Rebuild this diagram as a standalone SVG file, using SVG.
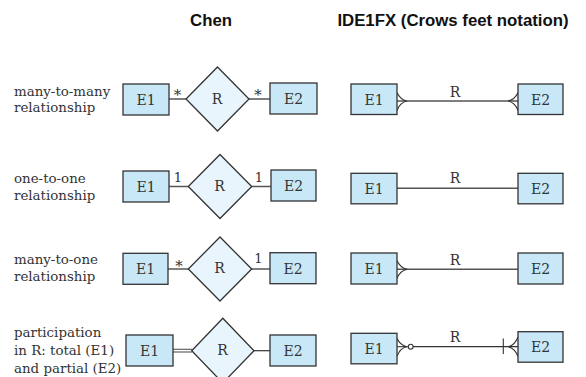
<svg xmlns="http://www.w3.org/2000/svg" width="586" height="377" viewBox="0 0 586 377">
<defs>
<style>
.bg{fill:#ffffff}
.head{font-family:"Liberation Sans",Arial,sans-serif;font-weight:bold;font-size:16.8px;fill:#111;text-anchor:middle}
.lbl{font-family:"DejaVu Serif","Liberation Serif",serif;font-size:13.4px;fill:#333}
.ent rect{fill:#c8e8f8;stroke:#333;stroke-width:1.3}
.rel polygon{fill:#e8f5fc;stroke:#333;stroke-width:1.3}
.t{font-family:"DejaVu Serif","Liberation Serif",serif;font-size:14px;fill:#333;text-anchor:middle}
.card{font-family:"DejaVu Serif","Liberation Serif",serif;font-size:13px;fill:#333;text-anchor:middle}
.star{font-family:"DejaVu Serif","Liberation Serif",serif;font-size:15px;fill:#333;text-anchor:middle}
.ln{stroke:#555;stroke-width:1.5;fill:none}
.ft{stroke:#333;stroke-width:1.1;fill:none}
</style>
</defs>
<rect class="bg" x="0" y="0" width="586" height="377"/>

<text class="head" x="211" y="26">Chen</text>
<text class="head" x="453" y="26">IDE1FX (Crows feet notation)</text>

<g id="labels">
<text class="lbl" x="14" y="95.5">many-to-many</text>
<text class="lbl" x="14" y="112">relationship</text>
<text class="lbl" x="14" y="183">one-to-one</text>
<text class="lbl" x="14" y="199.5">relationship</text>
<text class="lbl" x="14" y="264">many-to-one</text>
<text class="lbl" x="14" y="281">relationship</text>
<text class="lbl" x="14" y="337">participation</text>
<text class="lbl" x="14" y="355">in R: total (E1)</text>
<text class="lbl" x="14" y="373">and partial (E2)</text>
</g>

<g id="connectors">
<!-- Chen row 1 -->
<line class="ln" x1="169" y1="99" x2="186" y2="99"/>
<line class="ln" x1="249" y1="99" x2="270" y2="99"/>
<text class="star" x="177.5" y="100">*</text>
<text class="star" x="258" y="100">*</text>
<!-- Chen row 2 -->
<line class="ln" x1="169" y1="186.5" x2="188.3" y2="186.5"/>
<line class="ln" x1="251.7" y1="186.5" x2="271" y2="186.5"/>
<text class="card" x="178" y="182">1</text>
<text class="card" x="259" y="182">1</text>
<!-- Chen row 3 -->
<line class="ln" x1="168" y1="269" x2="188.3" y2="269"/>
<line class="ln" x1="251.7" y1="269" x2="270" y2="269"/>
<text class="star" x="179" y="271">*</text>
<text class="card" x="258.5" y="263">1</text>
<!-- Chen row 4 -->
<line class="ln" x1="173" y1="349.3" x2="192" y2="349.3" style="stroke-width:1.1"/>
<line class="ln" x1="173" y1="352" x2="192" y2="352" style="stroke-width:1.1"/>
<line class="ln" x1="254" y1="350.7" x2="270" y2="350.7" style="stroke:#333;stroke-width:1.2"/>

<!-- IDE1FX row 1 -->
<line class="ln" x1="397" y1="101" x2="518" y2="101"/>
<path class="ft" d="M397,92.5 Q400,99.5 407,101 M397,110.5 Q400,102.5 407,101"/>
<path class="ft" d="M518,92.5 Q515,99.5 508,101 M518,110.5 Q515,102.5 508,101"/>
<text class="t" x="455" y="97">R</text>
<!-- IDE1FX row 2 -->
<line class="ln" x1="397" y1="188.3" x2="518" y2="188.3"/>
<text class="t" x="455" y="183">R</text>
<!-- IDE1FX row 3 -->
<line class="ln" x1="397" y1="269.3" x2="518" y2="269.3"/>
<path class="ft" d="M397,260.5 Q400,267.8 407.3,269.3 M397,278.3 Q400,270.8 407.3,269.3"/>
<text class="t" x="455" y="264.5">R</text>
<!-- IDE1FX row 4 -->
<line class="ln" x1="397" y1="346.7" x2="408.4" y2="346.7" style="stroke:#333;stroke-width:1.1"/>
<path class="ft" d="M397,338.3 Q400,345.2 406.7,346.7 M397,356.3 Q400,348.2 406.7,346.7"/>
<circle cx="410.7" cy="346.7" r="2.4" fill="#fff" stroke="#333" stroke-width="1.1"/>
<line class="ln" x1="413.1" y1="346.7" x2="518" y2="346.7" style="stroke:#333;stroke-width:1.2"/>
<line class="ft" x1="503.3" y1="338.5" x2="503.3" y2="354"/>
<path class="ft" d="M518,337 Q515,345 508.3,346.7 M518,356.5 Q515,348.4 508.3,346.7"/>
<text class="t" x="455" y="342">R</text>
</g>

<g id="chen-r1-E1" class="ent"><rect x="123" y="84" width="46" height="31"/><text class="t" x="146" y="105">E1</text></g>
<g id="chen-r1-R" class="rel"><polygon points="217.5,67 249,99 217.5,131 186,99"/><text class="t" x="217" y="103.5">R</text></g>
<g id="chen-r1-E2" class="ent"><rect x="270" y="83" width="47" height="31"/><text class="t" x="293.5" y="104">E2</text></g>

<g id="chen-r2-E1" class="ent"><rect x="123" y="171" width="46" height="31"/><text class="t" x="146" y="192">E1</text></g>
<g id="chen-r2-R" class="rel"><polygon points="220,154.5 251.7,186.5 220,218.5 188.3,186.5"/><text class="t" x="219.5" y="191">R</text></g>
<g id="chen-r2-E2" class="ent"><rect x="271" y="170" width="45" height="31"/><text class="t" x="293.5" y="191">E2</text></g>

<g id="chen-r3-E1" class="ent"><rect x="123" y="253.3" width="45" height="31"/><text class="t" x="145.5" y="274">E1</text></g>
<g id="chen-r3-R" class="rel"><polygon points="220,237 251.7,269 220,301 188.3,269"/><text class="t" x="219.5" y="273">R</text></g>
<g id="chen-r3-E2" class="ent"><rect x="270" y="252.7" width="46" height="31"/><text class="t" x="293" y="273.5">E2</text></g>

<g id="chen-r4-E1" class="ent"><rect x="126" y="335" width="47" height="31"/><text class="t" x="149.5" y="356">E1</text></g>
<g id="chen-r4-R" class="rel"><polygon points="222.8,318.3 254,350.7 222.8,383 191.7,350.7"/><text class="t" x="222.5" y="355">R</text></g>
<g id="chen-r4-E2" class="ent"><rect x="270" y="335" width="46" height="31"/><text class="t" x="293" y="356">E2</text></g>

<g id="ide-r1-E1" class="ent"><rect x="351" y="84" width="46" height="30.5"/><text class="t" x="374" y="105">E1</text></g>
<g id="ide-r1-E2" class="ent"><rect x="518" y="84" width="45" height="30.5"/><text class="t" x="540.5" y="105">E2</text></g>

<g id="ide-r2-E1" class="ent"><rect x="351" y="173.3" width="46" height="30.5"/><text class="t" x="374" y="194">E1</text></g>
<g id="ide-r2-E2" class="ent"><rect x="518" y="173.3" width="45" height="30.5"/><text class="t" x="540.5" y="194">E2</text></g>

<g id="ide-r3-E1" class="ent"><rect x="351" y="253" width="46" height="31"/><text class="t" x="374" y="274">E1</text></g>
<g id="ide-r3-E2" class="ent"><rect x="518" y="253" width="45" height="31"/><text class="t" x="540.5" y="274">E2</text></g>

<g id="ide-r4-E1" class="ent"><rect x="351" y="333.3" width="46" height="30.5"/><text class="t" x="374" y="354">E1</text></g>
<g id="ide-r4-E2" class="ent"><rect x="518" y="331.7" width="45" height="30.5"/><text class="t" x="540.5" y="352">E2</text></g>
</svg>
